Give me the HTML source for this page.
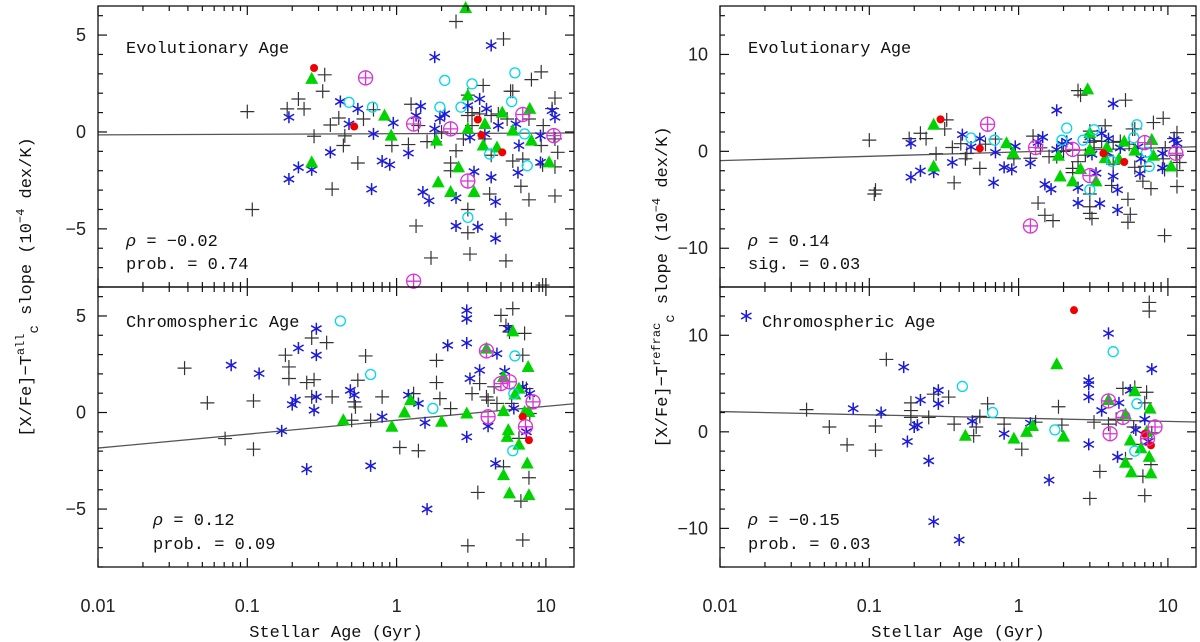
<!DOCTYPE html>
<html><head><meta charset="utf-8"><style>
html,body{margin:0;padding:0;background:#fff;}
svg{display:block;}
.tick{font-family:"Liberation Sans",sans-serif;font-size:18px;fill:#222;}
.lbl{font-family:"Liberation Mono",monospace;font-size:17px;fill:#111;}
.ax{font-family:"Liberation Mono",monospace;font-size:17px;fill:#111;}
</style></head><body>
<svg id="chart" width="1200" height="642" viewBox="0 0 1200 642"></svg>
<script>
// ---------- DATA ----------
const tlPlus=[[0.1,1.05],[0.185,1.19],[0.22,1.7],[0.24,1.19],[0.33,2.95],[0.32,2.1],[0.28,-0.22],[0.36,0.36],[0.41,0.72],[0.45,-0.2],[0.44,-0.7],[0.37,-2.95],[0.55,-1.6],[0.6,0.67],[0.7,1.15],[1.25,1.43],[1.4,0.33],[1.2,-0.65],[0.93,-0.7],[1.6,-0.5],[2.5,-0.97],[2.3,-1.6],[2.3,-2.0],[3.8,2.4],[3.0,1.9],[5.8,2.1],[6,2.1],[8,2.7],[9.3,3.1],[11.5,1.75],[11,1.2],[5.2,4.8],[2.5,5.7],[3.6,0.93],[4.3,0.85],[4.8,0.93],[5.5,0.67],[3.2,0.33],[2.8,-0.36],[3.9,-0.36],[4.3,-1.2],[6,-1.5],[7,-1.4],[9.5,-1.7],[11.5,-1.8],[9.3,-0.7],[12,-1.05],[6.8,-2.8],[7.7,-3.5],[11.5,-3.3],[4.2,-3.2],[3.0,-4.0],[5.4,-4.5],[1.35,-4.85],[3.0,-5.2],[1.7,-6.5],[3.1,-6.3],[5.4,-6.65],[9.5,-7.9],[2.0,0.0],[1.8,-0.5],[7.7,0.67],[9.6,0.33],[11.5,-0.36],[3.0,0.85],[3.2,1.0],[0.108,-4.0]];
const tlStar=[[0.19,0.76],[0.19,-2.43],[0.22,-1.83],[0.27,-1.95],[0.36,-1.05],[0.42,1.57],[0.48,0.41],[0.55,1.19],[0.68,-2.95],[0.7,-0.1],[0.8,-1.5],[0.9,-1.69],[0.95,0.47],[1.2,-1.09],[1.35,0.84],[1.45,1.33],[1.8,3.86],[1.8,0.16],[1.95,0.7],[2.1,0.93],[1.5,-3.1],[1.65,-3.55],[2.5,-3.4],[2.5,-4.85],[3.5,-4.9],[4.6,-5.5],[4.6,-3.6],[4.3,-2.34],[3.3,-2.05],[3.0,1.36],[3.6,1.7],[4.0,1.19],[4.3,4.46],[3.1,-0.28],[3.9,-0.1],[4.8,0.33],[6.3,0.41],[6.6,-0.7],[6.5,-2.1],[9.2,-0.19],[9.2,-1.57],[11,1.1],[11.5,0.76]];
const tlTri=[[0.27,2.74],[0.27,-1.57],[0.83,0.84],[0.92,-0.19],[1.85,-0.45],[1.9,-2.6],[2.3,-3.1],[2.6,-1.83],[2.9,6.4],[3.0,1.88],[3.0,0.16],[3.3,-3.1],[3.8,-0.7],[3.9,0.41],[4.7,-0.8],[5.1,1.0],[6.0,0.07],[7.8,1.19],[8,-0.45],[10.5,-1.57]];
const tlCirc=[[0.48,1.53],[0.69,1.28],[1.95,1.28],[2.1,2.66],[2.7,1.28],[3.2,2.48],[4.2,-1.14],[5.9,1.57],[6.2,3.05],[7.2,-0.1],[7.5,-1.74],[3.0,-4.41]];
const tlRed=[[0.28,3.3],[0.52,0.28],[3.7,-0.16],[5.1,-1.05],[3.5,0.64]];
const tlMag=[[0.62,2.79],[1.3,0.41],[2.3,0.16],[3.0,-2.53],[7.0,0.9],[11.3,-0.19],[1.3,-7.7]];
const tlFit=[-0.15,0.03];
const blPlus=[[0.054,0.5],[0.071,-1.35],[0.11,0.6],[0.11,-1.9],[0.18,2.97],[0.19,2.36],[0.19,1.76],[0.27,3.86],[0.34,3.62],[0.25,1.55],[0.28,1.7],[0.27,0.81],[0.37,0.81],[0.52,0.55],[0.55,1.67],[0.53,0.29],[0.5,-0.4],[0.62,2.93],[0.67,-0.4],[0.8,0.81],[1.05,-1.81],[1.4,-1.98],[1.3,0.98],[1.85,2.7],[1.85,1.55],[1.95,0.72],[2.3,0.2],[3.0,-6.9],[3.5,-4.14],[3.2,0.98],[3.6,1.5],[4.0,0.81],[4.1,0.64],[4.5,1.33],[5.0,5.03],[6.0,5.38],[5.4,4.5],[5.7,4.17],[7.2,4.1],[7.0,2.97],[5.9,0.47],[4.7,0.47],[6.6,-1.34],[7.7,-3.38],[6.8,-4.59],[7.0,-6.6],[7.8,-0.05],[7.4,1.24],[5.2,-2.81],[0.038,2.3]];
const blStar=[[0.078,2.45],[0.12,2.02],[0.17,-0.95],[0.21,0.64],[0.2,0.41],[0.22,3.34],[0.29,2.97],[0.29,4.34],[0.29,0.81],[0.28,0.12],[0.25,-2.93],[0.49,1.15],[0.52,0.9],[0.67,-2.76],[0.8,-0.22],[1.2,0.9],[1.4,0.47],[1.55,-0.53],[1.6,-5.0],[2.2,3.48],[2.95,5.29],[2.95,4.86],[2.95,3.6],[3.1,1.76],[2.95,-1.26],[3.6,2.19],[4.1,-0.71],[4.6,-2.64],[4.7,3.05],[5.3,2.14],[5.6,4.34],[6.1,0.21],[7.0,1.33],[7.8,0.98],[7.4,-1.0]];
const blTri=[[0.44,-0.4],[0.93,-0.74],[1.13,0],[1.24,0.64],[2.0,-0.48],[2.95,-0.05],[4.0,3.31],[5.2,1.84],[6.0,4.2],[5.2,0.07],[5.6,-0.91],[5.5,-1.26],[5.2,-3.24],[5.7,-4.19],[6.2,0.93],[6.6,1.24],[6.6,-1.66],[7.2,0.03],[7.7,0.03],[7.6,2.36],[7.5,-2.64],[7.7,-4.28]];
const blCirc=[[0.42,4.74],[0.67,1.97],[1.75,0.21],[6.2,2.93],[6.0,-1.98],[6.1,0.98]];
const blRed=[[7.0,-0.22],[7.7,-1.43]];
const blMag=[[4.0,3.19],[4.1,-0.22],[5.0,1.5],[5.7,1.59],[7.3,-0.74],[8.2,0.55]];
const blFit=[-1.84,0.72];
const trPlus=tlPlus.map(p=>[p[0],p[1]*1.1]).concat([[0.11,-4],[2.6,5.8],[5.6,-6.5],[3.0,-6.4],[1.5,-6.6]]);
const trStar=tlStar.map(p=>[p[0],p[1]*1.1]);
const trTri=tlTri.map(p=>[p[0],p[1]]);
const trCirc=tlCirc.map(p=>[p[0],p[1]*0.9]);
const trRed=[[0.3,3.3],[0.55,0.3],[3.7,-0.2],[5.1,-1.1]];
const trMag=[[0.62,2.8],[1.3,0.4],[2.3,0.2],[3.0,-2.5],[7.0,0.9],[11.3,-0.2],[1.2,-7.7]];
const trFit=[-0.96,0.45];
const brPlus=[[0.038,2.3],[0.054,0.5],[0.071,-1.35],[0.11,0.6],[0.11,-1.9],[0.13,7.5],[0.19,3.0],[0.19,2.2],[0.19,1.5],[0.27,3.9],[0.34,3.6],[0.25,1.5],[0.37,0.8],[0.52,0.5],[0.55,1.6],[0.5,-0.4],[0.62,2.9],[0.8,0.8],[1.05,-1.8],[1.3,1.0],[1.85,2.6],[1.95,0.7],[3.0,-6.9],[3.5,-4.1],[3.2,1.0],[4.0,0.8],[4.5,1.3],[5.0,4.5],[6.0,4.6],[7.2,4.1],[7.0,3.0],[5.9,0.5],[6.6,-1.3],[7.7,-3.4],[6.8,-4.6],[7.0,-6.6],[7.5,12.5],[7.5,13.4],[5.2,-2.8],[7.8,-0.1]];
const brStar=[[0.015,12],[0.078,2.4],[0.12,2.0],[0.17,6.7],[0.18,-1.0],[0.2,0.5],[0.21,0.7],[0.22,3.3],[0.25,-3.0],[0.27,-9.3],[0.4,-11.2],[0.29,2.9],[0.29,4.3],[0.49,1.1],[0.8,-0.2],[1.2,0.9],[1.6,-5.0],[2.95,5.3],[2.95,4.9],[2.95,3.6],[2.95,-1.3],[3.6,2.2],[4.0,10.2],[4.6,-2.6],[4.7,3.0],[5.6,4.3],[6.1,0.2],[7.0,1.3],[7.4,-1.0],[7.8,6.5]];
const brTri=[[0.44,-0.4],[0.93,-0.7],[1.13,0],[1.24,0.6],[1.8,7.0],[2.0,-0.5],[4.0,3.3],[5.2,1.8],[6.0,4.2],[5.6,-0.9],[5.2,-3.2],[5.7,-4.2],[6.6,-1.7],[7.2,0],[7.6,2.4],[7.5,-2.6],[7.7,-4.3]];
const brCirc=[[0.42,4.7],[0.67,2.0],[1.75,0.2],[4.3,8.3],[6.2,2.9],[6.0,-2.0]];
const brRed=[[2.35,12.6],[7.0,-0.2],[7.7,-1.4]];
const brMag=[[4.0,3.2],[4.1,-0.2],[5.0,1.5],[7.3,-0.7],[8.2,0.5]];
const brFit=[2.1,-0.34];
</script>
<script>
const NS='http://www.w3.org/2000/svg';
const svg=document.getElementById('chart');
function mk(tag,attrs,parent){const e=document.createElementNS(NS,tag);for(const k in attrs)e.setAttribute(k,attrs[k]);(parent||svg).appendChild(e);return e;}
const TOP=6,MID=287,BOT=567;
const LOGMIN=-2,LOGMAX=-2+476/149.3;
function makePanel(x0,y0,y1,vmin,vmax,name){
  const xs=a=>x0+(Math.log10(a)-LOGMIN)/(LOGMAX-LOGMIN)*476;
  const ys=v=>y1-(v-vmin)/(vmax-vmin)*(y1-y0);
  return {x0,y0,y1,xs,ys,vmin,vmax,name};
}
const panels={
  tl:makePanel(98,TOP,MID,-8,6.5,'top-left'),
  bl:makePanel(98,MID,BOT,-8,6.5,'bottom-left'),
  tr:makePanel(720,TOP,MID,-14,15,'top-right'),
  br:makePanel(720,MID,BOT,-14,15,'bottom-right')
};
function drawFrame(p,major,minor){
  const g=mk('g',{});
  
  
  mk('rect',{x:p.x0,y:p.y0,width:476,height:p.y1-p.y0,fill:'none',stroke:'#111','stroke-width':1.3},g);
  for(let d=-2;d<=1;d++){for(let m=1;m<=9;m++){const a=m*Math.pow(10,d);if(Math.log10(a)>LOGMAX)continue;const x=p.xs(a);const L=m===1?9:5;
    mk('line',{x1:x,x2:x,y1:p.y1,y2:p.y1-L,stroke:'#111','stroke-width':1.2},g);
    mk('line',{x1:x,x2:x,y1:p.y0,y2:p.y0+L,stroke:'#111','stroke-width':1.2},g);}}
  for(let v=Math.ceil(p.vmin/minor)*minor;v<=p.vmax;v+=minor){const y=p.ys(v);const L=(Math.abs(v%major)<1e-6)?9:5;
    mk('line',{x1:p.x0,x2:p.x0+L,y1:y,y2:y,stroke:'#111','stroke-width':1.2},g);
    mk('line',{x1:p.x0+476,x2:p.x0+476-L,y1:y,y2:y,stroke:'#111','stroke-width':1.2},g);
    if(Math.abs(v%major)<1e-6){const t=mk('text',{x:p.x0-12,y:y+6,'text-anchor':'end',class:'tick'},g);t.textContent=(v<0?'\u2212':'')+Math.abs(v);
      
      }}
}
function drawFit(p,fit){
  const l=mk('line',{x1:p.xs(0.01),y1:p.ys(fit[0]),x2:p.x0+476,y2:p.ys(fit[0]+fit[1]*(LOGMAX+2)),stroke:'#555','stroke-width':1.3});
  
  
}
function drawPoints(p,pl,st,tr,ci,rd,mg){
  const g=mk('g',{});
  
  
  pl.forEach(d=>{const x=p.xs(d[0]),y=p.ys(d[1]);const e=mk('path',{d:`M${x-7} ${y}H${x+7}M${x} ${y-7}V${y+7}`,stroke:'#333','stroke-width':1.2},g);
    
    });
  st.forEach(d=>{const x=p.xs(d[0]),y=p.ys(d[1]);let s='';for(let k=0;k<3;k++){const a=Math.PI/2+k*Math.PI/3;s+=`M${x-6*Math.cos(a)} ${y-6*Math.sin(a)}L${x+6*Math.cos(a)} ${y+6*Math.sin(a)}`;}
    const e=mk('path',{d:s,stroke:'#1a1ad8','stroke-width':1.5},g);
    
    });
  tr.forEach(d=>{const x=p.xs(d[0]),y=p.ys(d[1]);const e=mk('path',{d:`M${x} ${y-7}L${x+6.5} ${y+5}L${x-6.5} ${y+5}Z`,fill:'#00d400'},g);
    
    });
  ci.forEach(d=>{const e=mk('circle',{cx:p.xs(d[0]),cy:p.ys(d[1]),r:5,fill:'none',stroke:'#00d8e8','stroke-width':1.3},g);
    
    });
  rd.forEach(d=>{const e=mk('circle',{cx:p.xs(d[0]),cy:p.ys(d[1]),r:4,fill:'#f00000'},g);
    
    });
  mg.forEach(d=>{const x=p.xs(d[0]),y=p.ys(d[1]);const e=mk('path',{d:`M${x-7} ${y}H${x+7}M${x} ${y-7}V${y+7}M${x+7} ${y}A7 7 0 1 1 ${x+7} ${y-0.01}`,fill:'none',stroke:'#d832d8','stroke-width':1.3},g);
    
    });
}
drawFit(panels.tl,tlFit);drawFit(panels.bl,blFit);drawFit(panels.tr,trFit);drawFit(panels.br,brFit);
drawPoints(panels.tl,tlPlus,tlStar,tlTri,tlCirc,tlRed,tlMag);
drawPoints(panels.bl,blPlus,blStar,blTri,blCirc,blRed,blMag);
drawPoints(panels.tr,trPlus,trStar,trTri,trCirc,trRed,trMag);
drawPoints(panels.br,brPlus,brStar,brTri,brCirc,brRed,brMag);
drawFrame(panels.tl,5,1);drawFrame(panels.bl,5,1);drawFrame(panels.tr,10,2);drawFrame(panels.br,10,2);
const xTicks=[0.01,0.1,1,10];
[panels.bl,panels.br].forEach(p=>{xTicks.forEach(a=>{const t=mk('text',{x:p.xs(a),y:612,'text-anchor':'middle',class:'tick'});t.textContent=String(a);
  
  });});
</script>
<svg width="1200" height="642" style="position:absolute;left:0;top:0">
<text x="126" y="53" class="lbl">Evolutionary Age</text>
<text x="126" y="246" class="lbl"><tspan font-style="italic">ρ</tspan>  = −0.02</text>
<text x="126" y="269" class="lbl">prob. =  0.74</text>
<text x="126" y="327" class="lbl">Chromospheric Age</text>
<text x="153" y="525" class="lbl"><tspan font-style="italic">ρ</tspan>  = 0.12</text>
<text x="153" y="549" class="lbl">prob. = 0.09</text>
<text x="748" y="53" class="lbl">Evolutionary Age</text>
<text x="748" y="246" class="lbl"><tspan font-style="italic">ρ</tspan>  = 0.14</text>
<text x="748" y="269" class="lbl">sig. =  0.03</text>
<text x="762" y="327" class="lbl">Chromospheric Age</text>
<text x="748" y="525" class="lbl"><tspan font-style="italic">ρ</tspan>  = −0.15</text>
<text x="748" y="549" class="lbl">prob. =  0.03</text>
<text x="336" y="637" text-anchor="middle" class="ax">Stellar Age (Gyr)</text>
<text x="958" y="637" text-anchor="middle" class="ax">Stellar Age (Gyr)</text>
<text transform="translate(31,287) rotate(-90)" text-anchor="middle" class="ax">[X/Fe]−T<tspan dy="-7" font-size="12">all</tspan><tspan dy="14" font-size="14">c</tspan><tspan dy="-7"> slope (10</tspan><tspan dy="-7" font-size="12">−4</tspan><tspan dy="7"> dex/K)</tspan></text>
<text transform="translate(667,287) rotate(-90)" text-anchor="middle" class="ax">[X/Fe]−T<tspan dy="-7" font-size="12">refrac</tspan><tspan dy="14" font-size="14">c</tspan><tspan dy="-7"> slope (10</tspan><tspan dy="-7" font-size="12">−4</tspan><tspan dy="7"> dex/K)</tspan></text>
</svg>
</body></html>
